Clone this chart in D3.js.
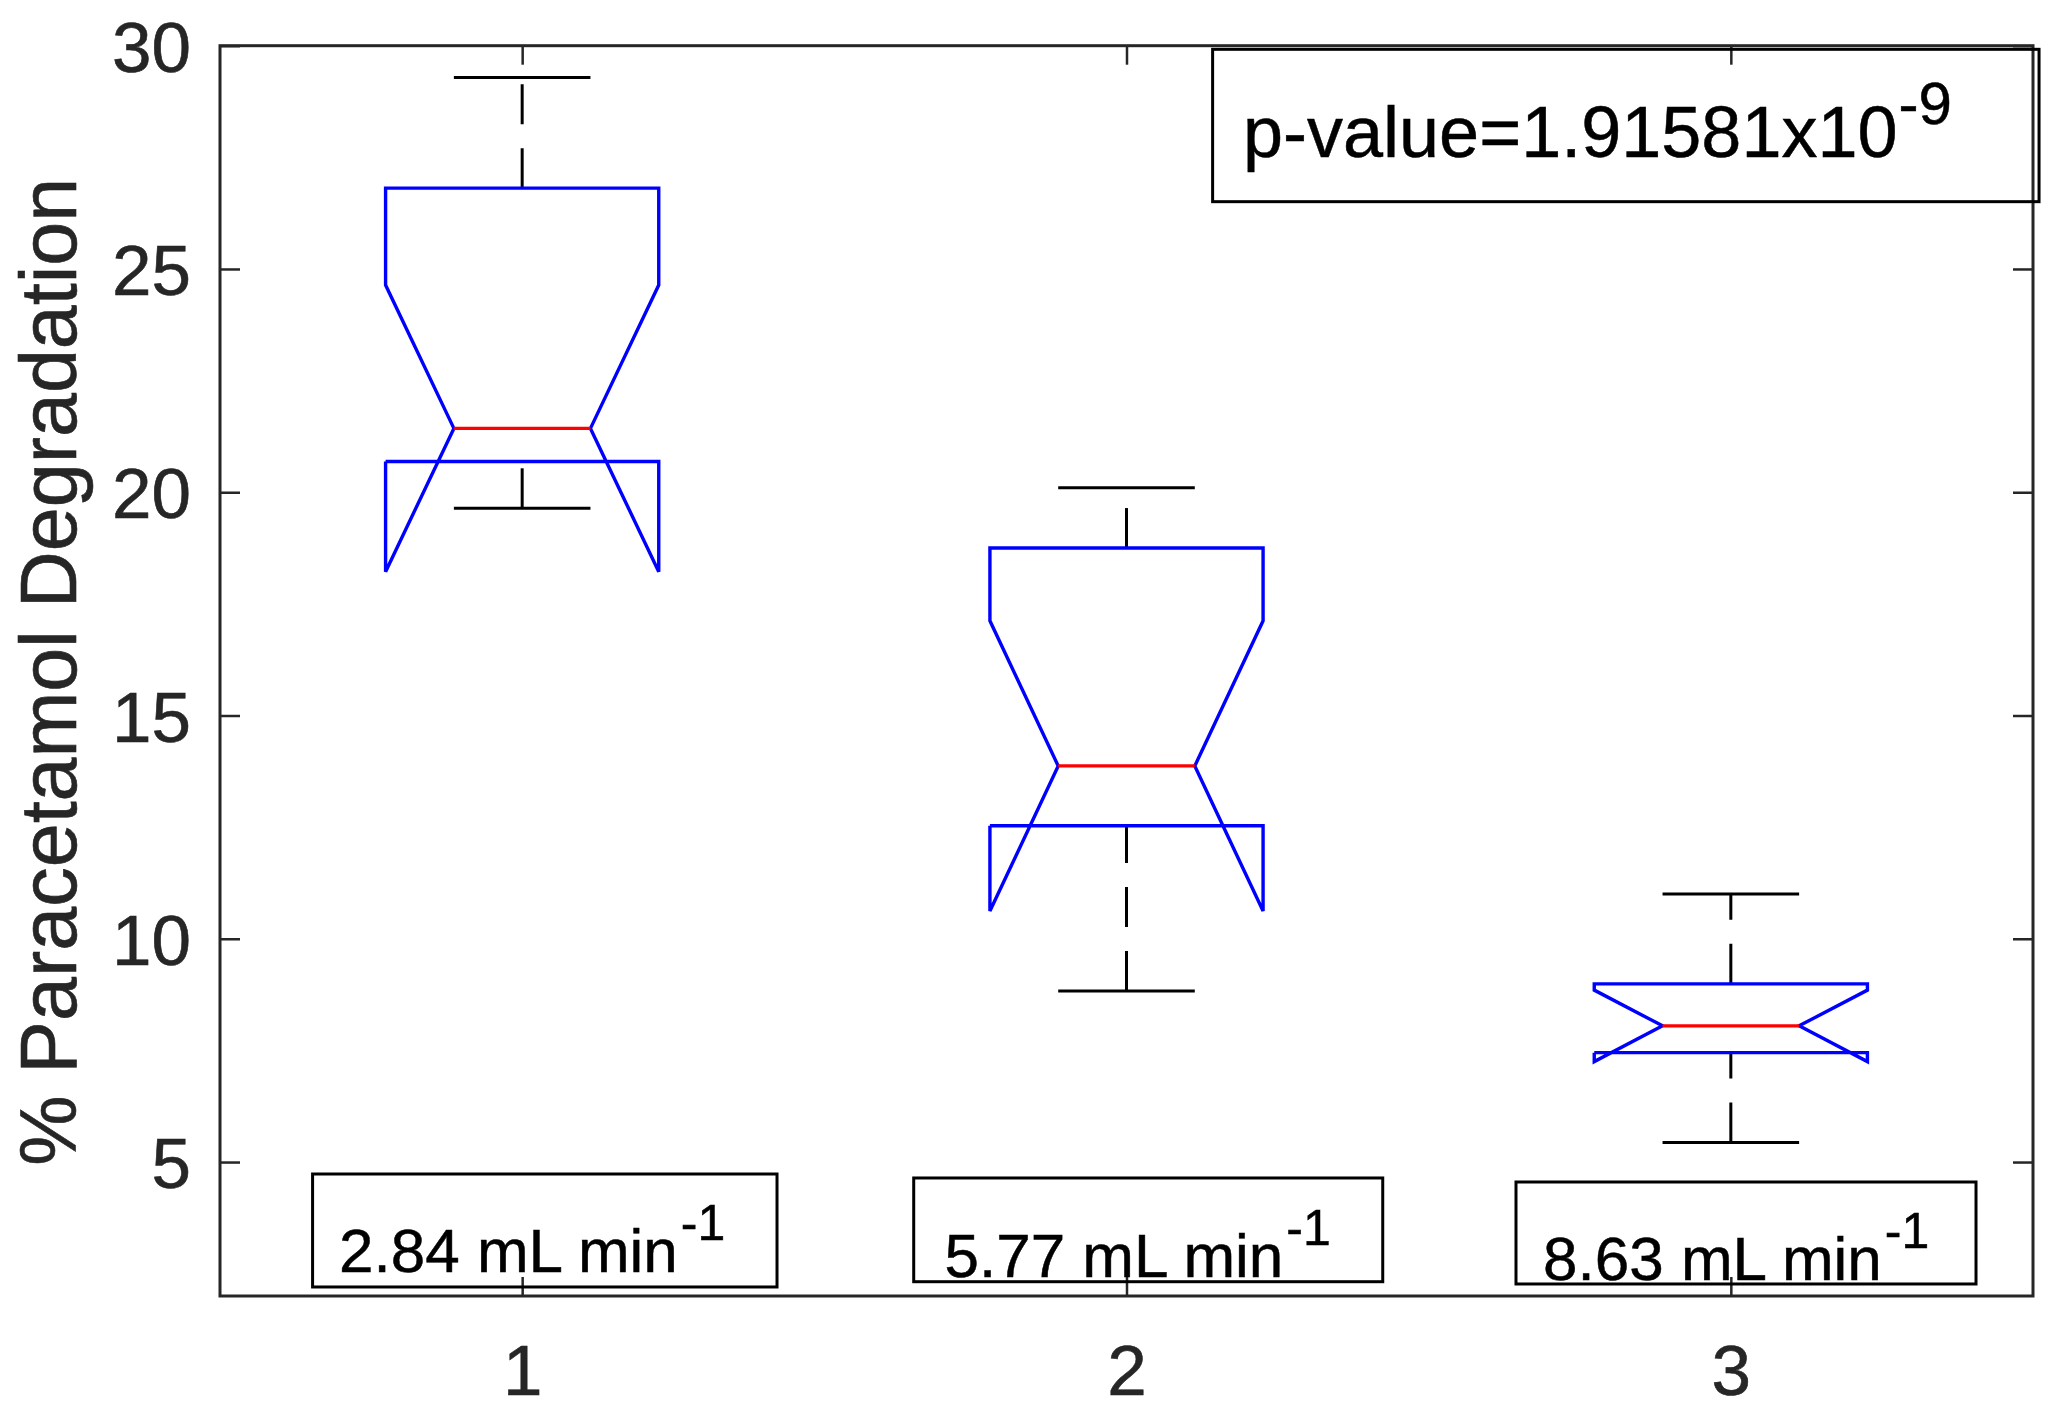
<!DOCTYPE html>
<html>
<head>
<meta charset="utf-8">
<script src="https://cdn.jsdelivr.net/npm/d3@7"></script>
<style>
  body { margin: 0; background: #fff; }
  svg { display: block; font-family: "Liberation Sans", Arial, Helvetica, sans-serif; }
</style>
</head>
<body>
<script>
// box plot values
const groups = [1, 2, 3];
const flowRates = ['2.84 mL min', '5.77 mL min', '8.63 mL min'];
const upperWhisker = [29.29, 20.10, 11.00];
const q3 = [26.81, 18.75, 8.99];
const medians = [21.43, 13.87, 8.05];
const q1 = [20.69, 12.53, 7.45];
const lowerWhisker = [19.64, 8.83, 5.44];
const notchHalf = [3.21, 3.25, 0.80];

const yTicks = [5, 10, 15, 20, 25, 30];
const xTicks = [1, 2, 3];
const pValueText = 'p-value=1.91581x10';
const pValueExp = '-9';
const unitExp = '-1';

const W = 2059, H = 1417;
const boxHalf = 0.226;   // in x units
const notchW = 0.113;

const xScale = d3.scaleLinear().domain([0.5, 3.5]).range([220, 2033]);
const yScale = d3.scaleLinear().domain([2, 30]).range([1296, 45.7]);

const axisColor = '#262626';

const svg = d3.select('body').append('svg')
  .attr('width', W)
  .attr('height', H);

const data = groups.map((g, i) => ({
  g, lo: lowerWhisker[i], q1: q1[i], med: medians[i], q3: q3[i],
  hi: upperWhisker[i], notch: notchHalf[i]
}));

// whiskers (drawn bottom -> top like matlab)
const plot = svg.append('g');
data.forEach(d => {
  plot.append('line')
    .attr('x1', xScale(d.g)).attr('x2', xScale(d.g))
    .attr('y1', yScale(d.lo)).attr('y2', yScale(d.q1))
    .attr('stroke', '#000').attr('stroke-width', 3)
    .attr('stroke-dasharray', '40,24');
  plot.append('line')
    .attr('x1', xScale(d.g)).attr('x2', xScale(d.g))
    .attr('y1', yScale(d.q3)).attr('y2', yScale(d.hi))
    .attr('stroke', '#000').attr('stroke-width', 3)
    .attr('stroke-dasharray', '40,24');
  // caps
  [d.lo, d.hi].forEach(v => {
    plot.append('line')
      .attr('x1', xScale(d.g - notchW)).attr('x2', xScale(d.g + notchW))
      .attr('y1', yScale(v)).attr('y2', yScale(v))
      .attr('stroke', '#000').attr('stroke-width', 3);
  });
});

// notched boxes
const line = d3.line().x(p => xScale(p[0])).y(p => yScale(p[1]));
data.forEach(d => {
  const l = d.g - boxHalf, r = d.g + boxHalf;
  const nl = d.g - notchW, nr = d.g + notchW;
  const pts = [
    [l, d.q1], [l, d.med - d.notch], [nl, d.med], [l, d.med + d.notch], [l, d.q3],
    [r, d.q3], [r, d.med + d.notch], [nr, d.med], [r, d.med - d.notch], [r, d.q1], [l, d.q1]
  ];
  plot.append('path')
    .attr('d', line(pts))
    .attr('fill', 'none')
    .attr('stroke', '#0000ff')
    .attr('stroke-width', 3.4)
    .attr('stroke-linejoin', 'miter');
  plot.append('line')
    .attr('x1', xScale(nl)).attr('x2', xScale(nr))
    .attr('y1', yScale(d.med)).attr('y2', yScale(d.med))
    .attr('stroke', '#ff0000').attr('stroke-width', 3.2);
});

// axes, ticks inward on all four sides
const x0 = xScale.range()[0], x1 = xScale.range()[1];
const y0 = yScale.range()[0], y1 = yScale.range()[1];

function styleAxis(g) {
  g.select('.domain').remove();
  g.selectAll('.tick line').attr('stroke', axisColor).attr('stroke-width', 2.5);
  g.selectAll('text').attr('fill', axisColor)
    .attr('stroke', axisColor).attr('stroke-width', 0.6)
    .style('font-size', '71px')
    .style('font-family', '"Liberation Sans", Arial, sans-serif');
}

svg.append('g')
  .attr('transform', `translate(0, ${y0})`)
  .call(d3.axisBottom(xScale).tickValues(xTicks).tickFormat(d3.format('d'))
    .tickSizeInner(-19).tickSizeOuter(0).tickPadding(0))
  .call(styleAxis)
  .call(g => g.selectAll('text').attr('y', 99).attr('dy', null));

svg.append('g')
  .attr('transform', `translate(0, ${y1})`)
  .call(d3.axisTop(xScale).tickValues(xTicks).tickFormat('')
    .tickSizeInner(-19).tickSizeOuter(0))
  .call(styleAxis);

svg.append('g')
  .attr('transform', `translate(${x0}, 0)`)
  .call(d3.axisLeft(yScale).tickValues(yTicks).tickFormat(d3.format('d'))
    .tickSizeInner(-20).tickSizeOuter(0).tickPadding(0))
  .call(styleAxis)
  .call(g => g.selectAll('text').attr('x', -29).attr('dy', '0.36em'));

svg.append('g')
  .attr('transform', `translate(${x1}, 0)`)
  .call(d3.axisRight(yScale).tickValues(yTicks).tickFormat('')
    .tickSizeInner(-20).tickSizeOuter(0))
  .call(styleAxis);

svg.append('rect')
  .attr('x', x0).attr('y', y1)
  .attr('width', x1 - x0).attr('height', y0 - y1)
  .attr('fill', 'none')
  .attr('stroke', axisColor)
  .attr('stroke-width', 3);

// y label
svg.append('text')
  .attr('transform', `translate(76, ${(y0 + y1) / 2 + 1}) rotate(-90)`)
  .attr('text-anchor', 'middle')
  .attr('fill', axisColor)
  .attr('stroke', axisColor).attr('stroke-width', 0.6)
  .style('font-size', '79px')
  .text('% Paracetamol Degradation');

// annotation boxes, placed in axis units
const labelBoxes = [
  { x0: 0.6532, x1: 1.4217, yTop: 4.732, yBot: 2.202, tx: 0.6969, ty: 2.538 },
  { x0: 1.6479, x1: 2.4240, yTop: 4.643, yBot: 2.320, tx: 1.6988, ty: 2.432 },
  { x0: 2.6445, x1: 3.4057, yTop: 4.553, yBot: 2.269, tx: 2.6892, ty: 2.358 }
];

const ann = svg.append('g');
labelBoxes.forEach((b, i) => {
  ann.append('rect')
    .attr('x', xScale(b.x0)).attr('y', yScale(b.yTop))
    .attr('width', xScale(b.x1) - xScale(b.x0))
    .attr('height', yScale(b.yBot) - yScale(b.yTop))
    .attr('fill', 'none').attr('stroke', '#000').attr('stroke-width', 3);
  const t = ann.append('text')
    .attr('x', xScale(b.tx)).attr('y', yScale(b.ty))
    .attr('fill', '#000').attr('stroke', '#000').attr('stroke-width', 0.5)
    .style('font-size', '62px')
    .text(flowRates[i]);
  t.append('tspan')
    .attr('dx', 3).attr('dy', -32)
    .style('font-size', '50px')
    .text(unitExp);
});

const pBox = { x0: 2.1425, x1: 3.510, yTop: 29.919, yBot: 26.507, tx: 2.1928, ty: 27.514 };
ann.append('rect')
  .attr('x', xScale(pBox.x0)).attr('y', yScale(pBox.yTop))
  .attr('width', xScale(pBox.x1) - xScale(pBox.x0))
  .attr('height', yScale(pBox.yBot) - yScale(pBox.yTop))
  .attr('fill', 'none').attr('stroke', '#000').attr('stroke-width', 3);
const pt = ann.append('text')
  .attr('x', xScale(pBox.tx)).attr('y', yScale(pBox.ty))
  .attr('fill', '#000').attr('stroke', '#000').attr('stroke-width', 0.5)
  .style('font-size', '72px')
  .text(pValueText);
pt.append('tspan')
  .attr('dx', 1).attr('dy', -33)
  .style('font-size', '60px')
  .text(pValueExp);
</script>
</body>
</html>
